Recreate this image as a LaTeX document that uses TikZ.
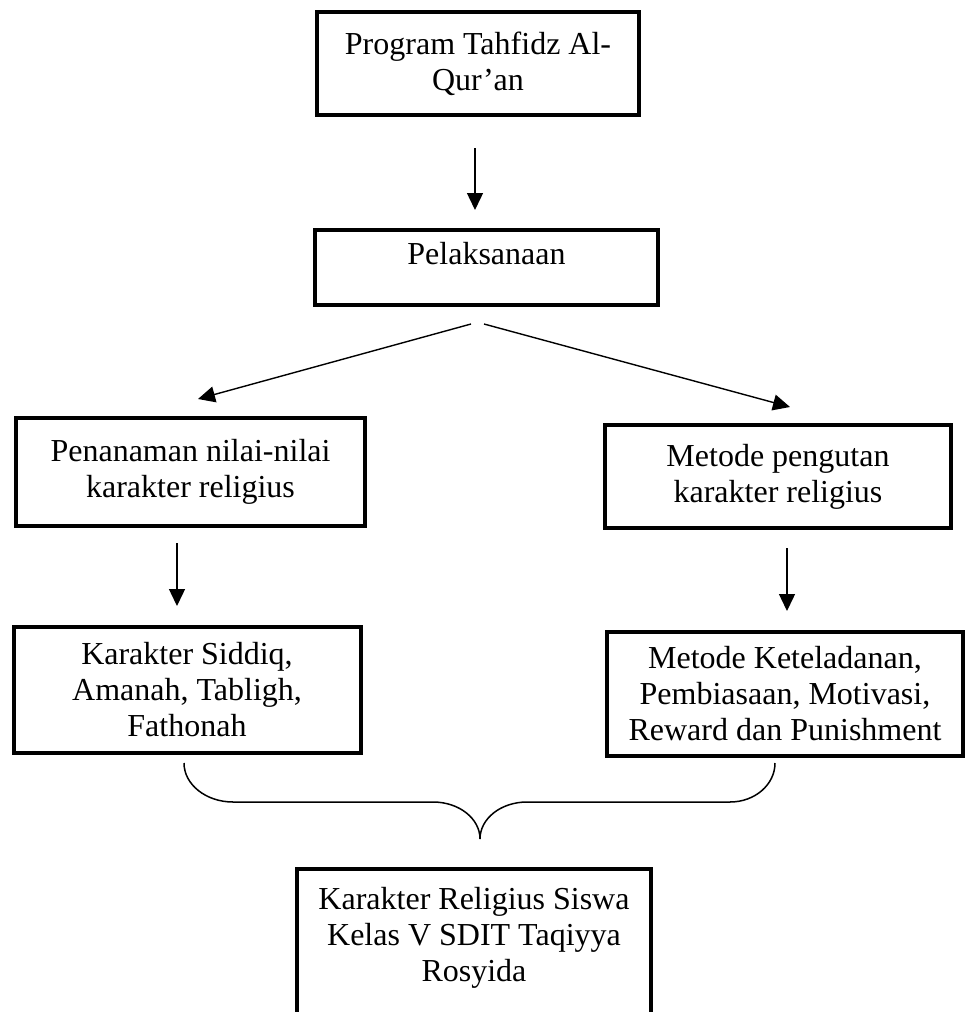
\documentclass[tikz,border=0pt]{standalone}
\usepackage{fontspec}
\setmainfont{Liberation Serif}
\usetikzlibrary{arrows.meta}
\begin{document}
\begin{tikzpicture}[x=1pt,y=-1pt,
  box/.style={draw=black, line width=4pt, rectangle, inner sep=0pt, align=center,
    font=\fontsize{32}{36}\selectfont},
  txt/.style={inner sep=0pt, align=center, font=\fontsize{32}{36}\selectfont},
  arr/.style={line width=1.4pt, -{Triangle[length=17pt,width=16pt]}},
  bracel/.style={line width=1.5pt}]
\useasboundingbox (0,0) rectangle (967,1012);
\fill[white] (0,0) rectangle (967,1012);

\node[box, minimum width=322pt, minimum height=103pt] (b1) at (478,63.5) {Program Tahfidz Al-\\Qur’an};
\node[box, minimum width=343pt, minimum height=75pt] (b2) at (486.5,267.5) {};
\node[txt] (t2) at (486.5,254) {Pelaksanaan};
\node[box, minimum width=349pt, minimum height=108pt] (b3) at (190.5,472) {Penanaman nilai-nilai\\karakter religius};
\node[box, minimum width=346pt, minimum height=103pt] (b4) at (778,476.5) {Metode pengutan\\karakter religius};
\node[box, minimum width=347pt, minimum height=126pt] (b5) at (187,690) {Karakter Siddiq,\\Amanah, Tabligh,\\Fathonah};
\node[box, minimum width=356pt, minimum height=124pt] (b6) at (785,694) {Metode Keteladanan,\\Pembiasaan, Motivasi,\\Reward dan Punishment};
\node[box, minimum width=354pt, minimum height=165pt] (b7) at (474,951.5) {};
\node[txt] (t7) at (474,938) {Karakter Religius Siswa\\Kelas V SDIT Taqiyya\\Rosyida};

% arrow end points
\coordinate (a1s) at (475,148);
\coordinate (a1e) at (475,210);
\coordinate (a2s) at (471,324);
\coordinate (a2e) at (198,399);
\coordinate (a3s) at (484,324);
\coordinate (a3e) at (790,407);
\coordinate (a4s) at (177,543);
\coordinate (a4e) at (177,606);
\coordinate (a5s) at (787,548);
\coordinate (a5e) at (787,611);

\draw[arr] (a1s) -- (a1e);
\draw[arr] (a2s) -- (a2e);
\draw[arr] (a3s) -- (a3e);
\draw[arr] (a4s) -- (a4e);
\draw[arr] (a5s) -- (a5e);

% brace
\coordinate (brL) at (184,763);
\coordinate (brM) at (480,839);
\coordinate (brR) at (775,763);
\draw[bracel] (brL) .. controls (184,784.5) and (206,802) .. (233,802)
  -- (433,802) .. controls (459,802) and (480,818.5) .. (brM)
  .. controls (480,818.5) and (501,802) .. (527,802)
  -- (730,802) .. controls (755,802) and (775,784.5) .. (brR);
\end{tikzpicture}
\end{document}
